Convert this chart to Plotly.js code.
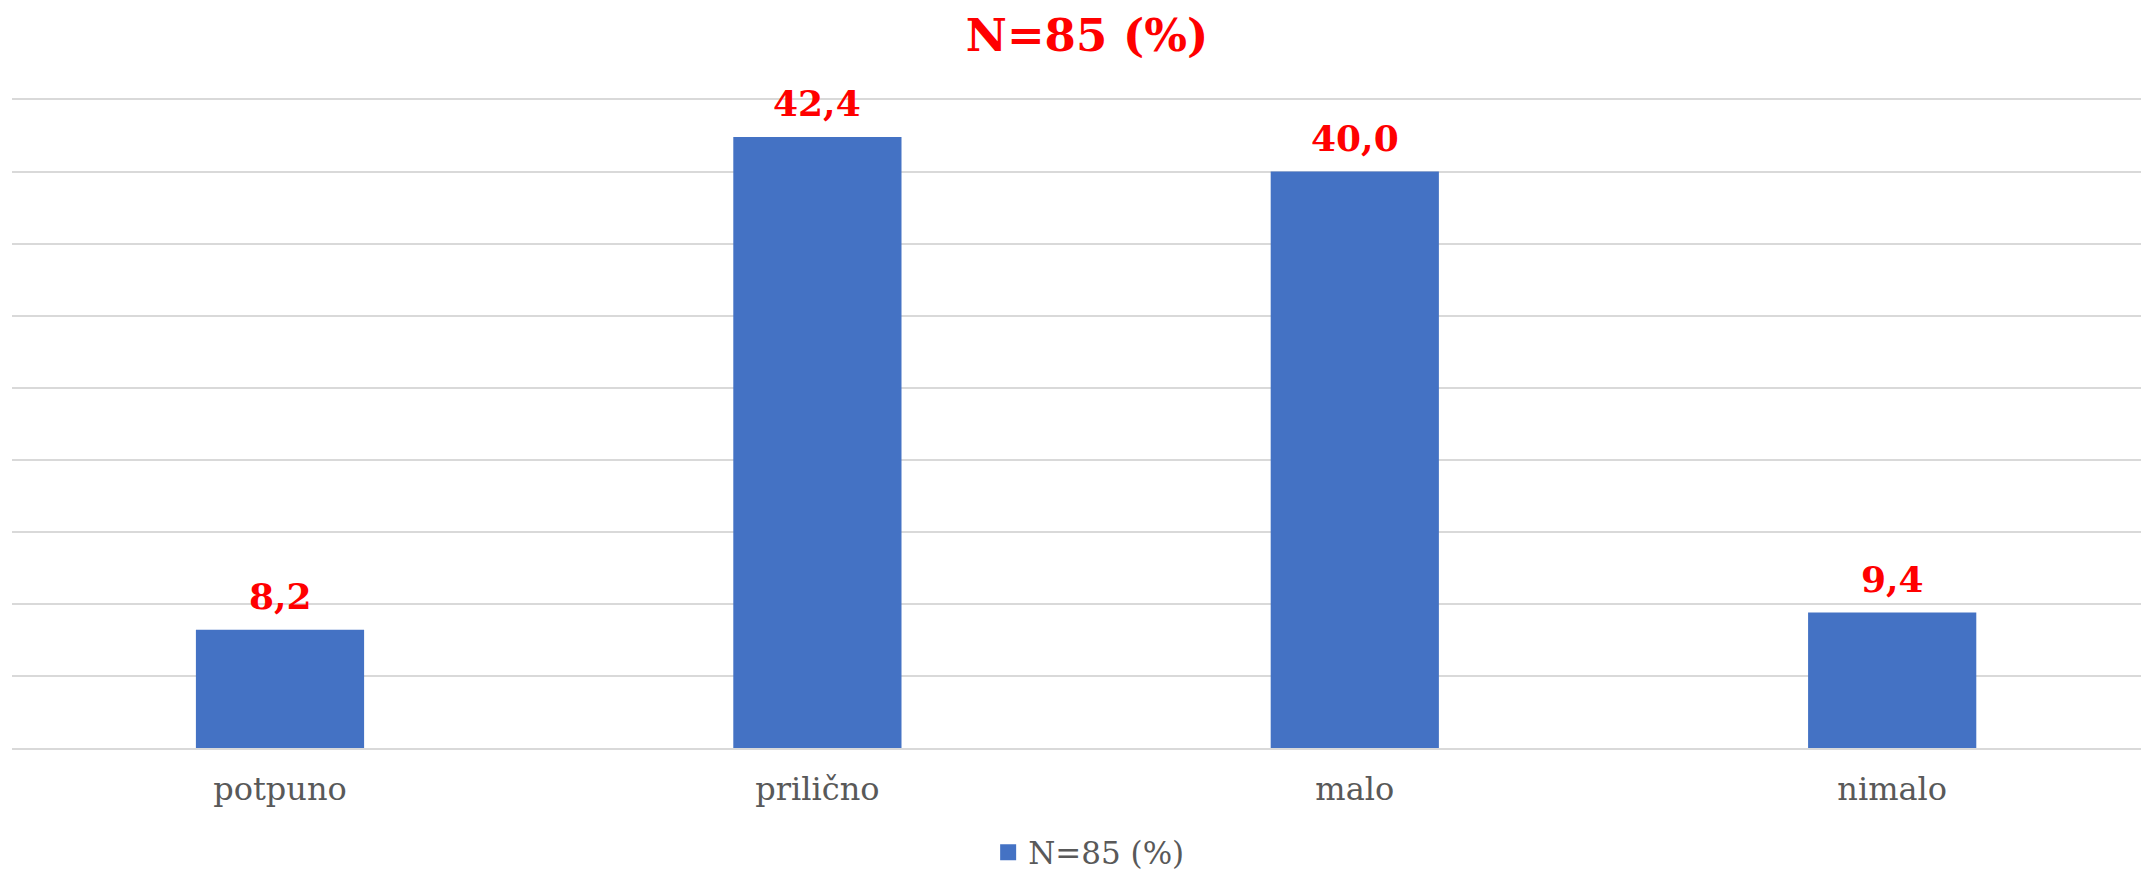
<!DOCTYPE html>
<html>
<head>
<meta charset="utf-8">
<script src="https://cdn.plot.ly/plotly-3.0.1.min.js"></script>
<style>html,body{margin:0;padding:0;background:#fff;}#chart{width:2144px;height:871px;}</style>
</head>
<body>
<div id="chart"></div>
<script>
const categories = ["potpuno", "prilično", "malo", "nimalo"];
const values = [8.2, 42.4, 40.0, 9.4];
const seriesName = "N=85 (%)";
const titleText = "N=85 (%)";
const labels = values.map(v => v.toFixed(1).replace('.', ','));

const barTrace = {
  type: 'bar',
  x: categories,
  y: values,
  name: seriesName,
  marker: {color: '#4472c4'},
  cliponaxis: false,
  showlegend: false,
  hoverinfo: 'none'
};

// legend-only entry with a larger square swatch
const legendTrace = {
  type: 'scatter',
  mode: 'markers',
  x: [null],
  y: [null],
  name: seriesName,
  marker: {symbol: 'square', size: 18, color: '#4472c4'},
  showlegend: true,
  hoverinfo: 'none'
};

const annotations = categories.map((c, i) => ({
  x: c,
  y: values[i],
  xref: 'x',
  yref: 'y',
  text: '<b>' + labels[i] + '</b>',
  showarrow: false,
  xanchor: 'center',
  yanchor: 'bottom',
  yshift: 11,
  font: {family: 'DejaVu Serif', size: 36, color: '#ff0000'}
}));

const layout = {
  width: 2144,
  height: 871,
  margin: {l: 12, r: 3, t: 97.6, b: 122.5, autoexpand: false},
  paper_bgcolor: '#ffffff',
  plot_bgcolor: '#ffffff',
  bargap: 0.687,
  showlegend: true,
  annotations: annotations,
  title: {
    text: '<b>' + titleText + '</b>',
    font: {family: 'DejaVu Serif', size: 45, color: '#ff0000'},
    x: 0.507, xref: 'container', xanchor: 'center',
    y: 0.96, yref: 'container', yanchor: 'middle'
  },
  xaxis: {
    type: 'category',
    range: [-0.4987, 3.463],
    automargin: false,
    tickfont: {family: 'DejaVu Serif', size: 32, color: '#595959'},
    ticks: '',
    ticklabelstandoff: 12,
    showline: true,
    linecolor: '#d9d9d9',
    linewidth: 2,
    showgrid: false
  },
  yaxis: {
    range: [0, 45.1],
    automargin: false,
    dtick: 5,
    tick0: 0,
    showticklabels: false,
    ticks: '',
    showgrid: true,
    gridcolor: '#d9d9d9',
    gridwidth: 2,
    zeroline: false
  },
  legend: {
    orientation: 'h',
    x: 0.508, xanchor: 'center', xref: 'container',
    y: 0.021, yanchor: 'middle', yref: 'container',
    font: {family: 'DejaVu Serif', size: 31, color: '#595959'},
    itemwidth: 30
  }
};

Plotly.newPlot('chart', [barTrace, legendTrace], layout, {displayModeBar: false, staticPlot: true});
</script>
</body>
</html>
